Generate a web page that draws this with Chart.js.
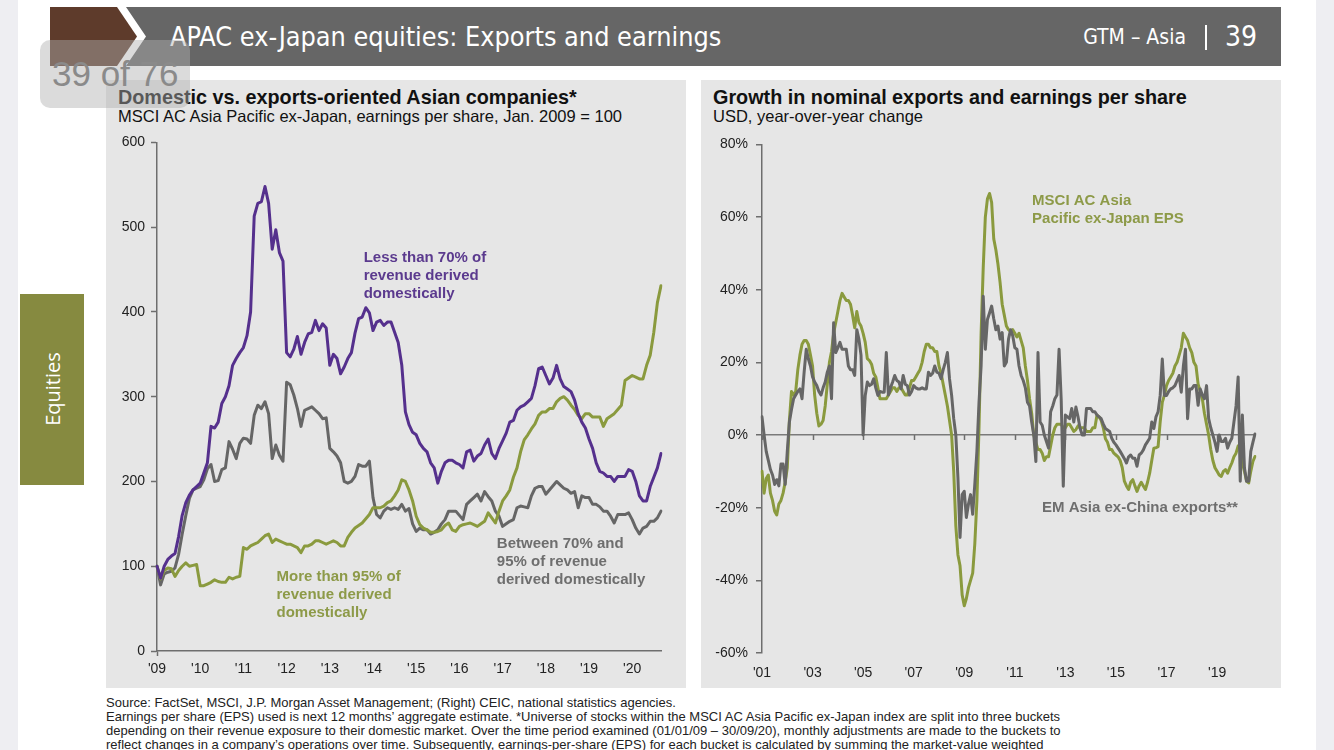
<!DOCTYPE html>
<html><head><meta charset="utf-8">
<script src="https://cdn.jsdelivr.net/npm/chart.js@4.4.1/dist/chart.umd.min.js"></script>
<style>
html,body{margin:0;padding:0;}
body{width:1334px;height:750px;overflow:hidden;background:#eeeef2;position:relative;font-family:"Liberation Sans",Arial,sans-serif;}
.abs{position:absolute;}
.page{left:18px;top:0;width:1298px;height:750px;background:#fff;}
.hdr-title{left:170px;top:19px;height:36px;line-height:36px;font-size:26.8px;color:#fff;white-space:nowrap;font-family:"Liberation Sans Narrow","DejaVu Sans Condensed",sans-serif;}
.hdr-right{right:77px;top:19px;height:36px;line-height:36px;color:#fff;white-space:nowrap;font-family:"Liberation Sans Narrow","DejaVu Sans Condensed",sans-serif;display:flex;align-items:center;}
.hdr-right .gtm{font-size:21px;}
.hdr-right .bar{display:inline-block;width:2px;height:25px;background:#fff;margin:0 18px 0 19px;}
.hdr-right .num{font-size:28px;}
.tab{left:20px;top:294px;width:64px;height:191px;background:#868a40;}
.tab span{position:absolute;left:32px;top:95px;transform:translate(-50%,-50%) rotate(-90deg);color:#fff;font-size:20px;font-family:"Open Sans","Noto Sans",sans-serif;white-space:nowrap;}
.panel{background:#e6e6e6;width:580px;height:608px;top:80px;}
.ctitle{font-weight:bold;font-size:19.8px;line-height:23px;color:#111;white-space:nowrap;}
.csub{font-size:16.5px;line-height:19px;color:#111;white-space:nowrap;}
.foot{left:106px;top:696px;font-size:13px;line-height:14px;color:#222;white-space:nowrap;}
.overlay{left:40px;top:40px;width:150px;height:68px;border-radius:10px;background:rgba(175,175,175,0.45);}
.overlay span{position:absolute;left:12px;top:14px;font-size:35px;line-height:40px;color:#8a8a8a;}
</style>
</head><body>
<div class="abs page"></div>
<svg class="abs" style="left:0;top:0" width="1334" height="70">
  <polygon points="50,7 117,7 137,36.5 117,66 50,66" fill="#5e3b2b"/>
  <polygon points="126,7 1281,7 1281,66 126,66 146,36.5" fill="#666666"/>
</svg>
<div class="abs hdr-title">APAC ex-Japan equities: Exports and earnings</div>
<div class="abs hdr-right"><span class="gtm">GTM – Asia</span><span class="bar"></span><span class="num">39</span></div>
<div class="abs tab"><span>Equities</span></div>

<div class="abs panel" style="left:106px"></div>
<div class="abs panel" style="left:701px"></div>
<div class="abs ctitle" style="left:118px;top:86px">Domestic vs. exports-oriented Asian companies*</div>
<div class="abs csub" style="left:118px;top:107px">MSCI AC Asia Pacific ex-Japan, earnings per share, Jan. 2009 = 100</div>
<div class="abs ctitle" style="left:713px;top:86px">Growth in nominal exports and earnings per share</div>
<div class="abs csub" style="left:713px;top:107px">USD, year-over-year change</div>

<canvas id="left" class="abs" style="left:106px;top:128px" width="580" height="560"></canvas>
<canvas id="right" class="abs" style="left:701px;top:128px" width="580" height="560"></canvas>

<div class="abs foot">Source: FactSet, MSCI, J.P. Morgan Asset Management; (Right) CEIC, national statistics agencies.<br>Earnings per share (EPS) used is next 12 months’ aggregate estimate. *Universe of stocks within the MSCI AC Asia Pacific ex-Japan index are split into three buckets<br>depending on their revenue exposure to their domestic market. Over the time period examined (01/01/09 – 30/09/20), monthly adjustments are made to the buckets to<br>reflect changes in a company’s operations over time. Subsequently, earnings-per-share (EPS) for each bucket is calculated by summing the market-value weighted</div>

<div class="abs overlay"><span>39 of 76</span></div>

<script>
// ---------- LEFT CHART DATA (monthly, Jan 2009 – Sep 2020) ----------
const leftStart = 2009;
const leftCount = 141;
const lessThan70 = [
 100, 86, 100, 108, 112, 115, 135, 160, 175, 184, 190, 194,
 198, 210, 222, 265, 263, 270, 292, 300, 313, 337, 345, 352,
 358, 372, 400, 513, 528, 530, 548, 528, 474, 497, 470, 460,
 352, 347, 356, 371, 350, 364, 374, 376, 390, 378, 386, 381,
 337, 350, 345, 327, 335, 345, 352, 375, 392, 394, 405, 399,
 378, 388, 390, 384, 388, 388, 376, 364, 337, 282, 267, 258,
 255, 245, 239, 235, 222, 216, 198, 212, 222, 225, 225, 222,
 220, 216, 235, 237, 224, 230, 233, 243, 250, 233, 227, 239,
 248, 257, 270, 272, 284, 288, 290, 294, 298, 313, 333, 335,
 325, 315, 322, 337, 321, 312, 309, 306, 296, 280, 270, 263,
 250, 239, 222, 212, 210, 206, 206, 200, 206, 206, 206, 214,
 212, 200, 183, 177, 177, 194, 205, 216, 233
];
const between70and95 = [
 100, 78, 91, 93, 94, 98, 114, 138, 160, 180, 190, 192,
 194, 202, 215, 220, 200, 201, 214, 216, 247, 238, 227, 245,
 251, 250, 245, 278, 290, 286, 294, 280, 227, 243, 231, 224,
 317, 314, 302, 286, 265, 284, 286, 288, 284, 280, 274, 275,
 239, 235, 230, 222, 200, 198, 200, 206, 220, 218, 218, 224,
 181, 161, 157, 165, 169, 167, 169, 167, 173, 165, 168, 150,
 141, 145, 143, 143, 138, 140, 143, 150, 155, 165, 165, 165,
 160, 155, 173, 177, 181, 185, 177, 188, 182, 177, 165, 159,
 147, 150, 153, 155, 169, 171, 170, 169, 183, 192, 194, 194,
 185, 190, 195, 200, 196, 192, 190, 186, 188, 169, 183, 181,
 181, 173, 173, 170, 165, 165, 159, 151, 161, 161, 161, 163,
 155, 145, 138, 145, 147, 153, 153, 157, 165
];
const moreThan95 = [
 100, 85, 95, 98, 97, 88, 95, 100, 104, 100, 101, 102,
 77, 77, 79, 81, 84, 82, 81, 81, 87, 85, 87, 88,
 122, 120, 124, 126, 128, 132, 136, 138, 128, 132, 130, 128,
 126, 126, 124, 122, 116, 124, 124, 126, 130, 130, 128, 126,
 128, 130, 128, 124, 124, 134, 140, 145, 148, 151, 156, 161,
 169, 169, 169, 171, 175, 177, 183, 190, 202, 200, 190, 177,
 159, 149, 145, 143, 140, 140, 141, 143, 148, 151, 143, 141,
 147, 149, 150, 151, 149, 147, 150, 153, 163, 157, 151, 165,
 177, 183, 190, 205, 216, 235, 249, 255, 262, 268, 278, 282,
 282, 286, 286, 294, 298, 300, 296, 290, 285, 278, 274, 280,
 280, 276, 276, 276, 265, 274, 277, 280, 285, 290, 319, 322,
 325, 323, 321, 321, 337, 349, 376, 411, 431
];
const leftYTicks = [0, 100, 200, 300, 400, 500, 600];

// ---------- RIGHT CHART DATA (monthly, Jan 2001 – Jul 2020), % y/y ----------
const rightStart = 2001;
const rightCount = 235;
const msciEps = [
 -10, -16, -12, -11, -16, -18, -21, -22, -19, -18, -16, -13,
 -9, 4, 12, 11, 12, 18, 22, 25, 26, 26, 25, 22,
 19, 11, 6, 2.5, 3, 4, 8, 14, 20, 23, 28, 31,
 34, 37, 39, 38, 37, 37, 36, 33, 29.5, 34, 31, 30,
 28, 25.5, 21, 20.5, 19.5, 17, 16, 13, 10, 10, 10, 10,
 11, 12, 13, 13, 12, 13, 13, 12, 11, 11, 13, 15,
 15, 16, 17, 18, 20, 23, 25, 25, 24, 24, 23, 23,
 19, 17, 14, 11, 8, 4, 0, -10, -25, -33, -36, -44,
 -47, -45, -42, -40, -38, -30, -18, 2, 28, 46, 60, 65,
 66.5, 64, 54, 51, 47, 42, 36, 33, 30, 29, 28.5, 29,
 28, 27, 28, 26, 24, 19, 15, 10, 6, 0, -2, -4,
 -4, -5, -7, -6, -6, -3, 0, 2, 3, 3, 3, 2,
 2, 3, 3, 2, 1, 1.5, 2.5, 2, 2, 2, 1, 1,
 1, 2, 2, 5.5, 5, 4, 2, -1, -2, -4, -4, -5,
 -5.5, -6, -7, -9, -12.7, -14, -15, -13, -12.3, -14, -15.5, -14,
 -13, -14, -15, -13, -10.5, -7, -3.6, -3.5, -3.2, 3.6, 9, 11,
 13.6, 15, 16, 17, 19, 20, 22, 24, 28, 27, 26, 24,
 22.7, 20, 19, 14, 12, 10, 6, 3, 0, -4, -7, -9,
 -10, -11, -11.4, -10, -9.5, -10.5, -9, -7.7, -6, -5, -3, -2.7,
 -7.7, -10, -12.7, -13.2, -10, -7.3, -5.9
];
const emAsiaExports = [
 5, 0, -4.5, -7, -9.5, -11, -13.6, -12.3, -14, -8, -8, -13.6,
 -4.5, 3.6, 7, 10, 11, 12, 12.7, 10, 17.3, 23.6, 21, 19,
 16, 14.6, 13.6, 12, 11, 13, 14.6, 17.3, 19, 10, 30.9, 22.7,
 24, 25.5, 23.6, 23.6, 23.6, 19, 18, 18, 16.4, 29, 26.4, 22,
 0, 10.9, 14.6, 13.6, 14, 15.5, 13, 10.9, 12, 11.8, 11.8, 22.7,
 11, 13, 14.6, 16.4, 15, 14.6, 12.7, 16.4, 14, 13.6, 11, 12,
 13.6, 13, 12.7, 12.7, 13, 12.7, 12.7, 17.3, 16.4, 17, 19, 17.3,
 17, 15.5, 18, 20, 22.7, 15.5, 11, 4.5, 0, -11.8, -28.2, -16.4,
 -15.5, -22.7, -19, -16.4, -21.8, -13.6, -4.5, 9, 19, 38.2, 23.6, 31.8,
 33.6, 35.5, 32, 29, 30, 26.4, 28.2, 19, 20, 26.4, 29, 27.3,
 24, 23.6, 19, 16.4, 15, 13, 9, 8, 3.6, 0, -7.3, 22.7,
 3.6, 2.7, 0, -1.8, -3.6, 6.4, 8, 10, 11, 23.6, 10, -14.1,
 5.5, 5, 4.5, 7.3, 3.6, 7.7, 5, 1.8, 0, 0, 7.3, 7.3,
 7.3, 6.4, 6.4, 5.5, 5, 4.5, 3, 1.8, 1.4, 1, -0.9, -2,
 -2.7, -3.6, -4.5, -5.5, -6.5, -7.7, -6, -5.5, -6.4, -6.4, -8.6, -5.5,
 -5, -4.1, -2.7, -1.8, -0.9, 3.6, 1.8, 5, 6.4, 10.9, 20.9, 10.9,
 10.9, 12, 12.7, 13, 13.6, 15, 16.4, 11.8, 19, 23.6, 4.5, 12.7,
 12.7, 13.6, 13.6, 8.2, 12.7, 11, 10, 13.6, 4.5, 2, 0, -2,
 -4.5, 0, -1.8, -1.8, -0.9, -3.6, -2, -0.9, 3.6, 8, 16, -12.7,
 5.5, -9.1, -12.7, -12.7, -4.5, -2, 0.3
];
const rightYTicks = [-60, -40, -20, 0, 20, 40, 60, 80];

// ---------- helpers ----------
function monthLabels(startYear, count) {
  const out = [];
  for (let i = 0; i < count; i++) {
    const y = startYear + Math.floor(i / 12);
    const m = (i % 12) + 1;
    out.push(y + '-' + (m < 10 ? '0' + m : m));
  }
  return out;
}
const leftCategories = monthLabels(leftStart, leftCount);
const rightCategories = monthLabels(rightStart, rightCount);

const COL_PURPLE = '#55308d';
const COL_GREEN = '#8a9a3e';
const COL_GREY = '#666666';
const AXIS = '#6e6e6e';
const FONT = '"Liberation Sans", Arial, sans-serif';

Chart.defaults.font.family = FONT;
Chart.defaults.font.size = 14;
Chart.defaults.color = '#222';

const notesPlugin = {
  id: 'notes',
  afterDatasetsDraw(chart, args, opts) {
    const { ctx } = chart;
    const xs = chart.scales.x, ys = chart.scales.y;
    (opts.items || []).forEach(it => {
      const px = xs.getPixelForValue(it.x);
      const py = ys.getPixelForValue(it.y);
      ctx.save();
      ctx.font = 'bold 15px ' + FONT;
      ctx.fillStyle = it.color;
      ctx.textBaseline = 'middle';
      ctx.textAlign = 'left';
      it.lines.forEach((l, i) => ctx.fillText(l, px, py + i * 18));
      ctx.restore();
    });
  }
};

const zeroTicksPlugin = {
  id: 'zeroTicks',
  beforeDatasetsDraw(chart, args, opts) {
    if (!opts.every) return;
    const { ctx } = chart;
    const xs = chart.scales.x, ys = chart.scales.y;
    const y0 = ys.getPixelForValue(0);
    ctx.save();
    ctx.strokeStyle = AXIS;
    ctx.lineWidth = 1.5;
    chart.data.labels.forEach((l, i) => {
      if (i % opts.every !== 0) return;
      const px = Math.round(xs.getPixelForValue(i)) + 0.5;
      ctx.beginPath();
      ctx.moveTo(px, y0);
      ctx.lineTo(px, y0 + 5);
      ctx.stroke();
    });
    ctx.restore();
  }
};

function lineDs(label, data, color, order) {
  return { label, data, borderColor: color, backgroundColor: color, borderWidth: 3,
    pointRadius: 0, tension: 0, borderJoinStyle: 'round', borderCapStyle: 'round', order };
}

// ---------- LEFT CHART ----------
new Chart(document.getElementById('left'), {
  type: 'line',
  data: {
    labels: leftCategories,
    datasets: [
      lineDs('Less than 70% of revenue derived domestically', lessThan70, COL_PURPLE, 0),
      lineDs('More than 95% of revenue derived domestically', moreThan95, COL_GREEN, 1),
      lineDs('Between 70% and 95% of revenue derived domestically', between70and95, COL_GREY, 2)
    ]
  },
  options: {
    responsive: false, animation: false, events: [],
    layout: { padding: { left: 0, top: 11, right: 25, bottom: 0 } },
    plugins: {
      legend: { display: false }, tooltip: { enabled: false },
      notes: { items: [
        { x: 57.4, y: 464, color: '#5b3a8e', lines: ['Less than 70% of', 'revenue derived', 'domestically'] },
        { x: 33.2, y: 88, color: '#8d9a48', lines: ['More than 95% of', 'revenue derived', 'domestically'] },
        { x: 94.4, y: 126, color: '#6e6e6e', lines: ['Between 70% and', '95% of revenue', 'derived domestically'] }
      ] },
      zeroTicks: { every: 0 }
    },
    scales: {
      x: {
        type: 'category', offset: false,
        afterFit: s => { s.height = 37; },
        border: { display: true, color: AXIS, width: 1.5 },
        grid: { display: true, drawOnChartArea: false, drawTicks: true, tickLength: 5,
          tickWidth: 1.5, tickColor: c => (c.index % 12 === 0 ? AXIS : 'rgba(0,0,0,0)') },
        ticks: { autoSkip: false, maxRotation: 0, minRotation: 0, padding: 5,
          callback: (v, i) => (i % 12 === 0 ? "'" + leftCategories[i].slice(2, 4) : null) }
      },
      y: {
        min: 0, max: 600,
        afterFit: s => { s.width = 51; },
        afterBuildTicks: s => { s.ticks = leftYTicks.map(v => ({ value: v })); },
        border: { display: true, color: AXIS, width: 1.5 },
        grid: { display: true, drawOnChartArea: false, drawTicks: true, tickLength: 6, tickWidth: 1.5, tickColor: AXIS },
        ticks: { padding: 6 }
      }
    }
  },
  plugins: [notesPlugin, zeroTicksPlugin]
});

// ---------- RIGHT CHART ----------
new Chart(document.getElementById('right'), {
  type: 'line',
  data: {
    labels: rightCategories,
    datasets: [
      lineDs('EM Asia ex-China exports**', emAsiaExports, COL_GREY, 0),
      lineDs('MSCI AC Asia Pacific ex-Japan EPS', msciEps, COL_GREEN, 1)
    ]
  },
  options: {
    responsive: false, animation: false, events: [],
    layout: { padding: { left: 0, top: 13, right: 26, bottom: 0 } },
    plugins: {
      legend: { display: false }, tooltip: { enabled: false },
      notes: { items: [
        { x: 128.2, y: 64.5, color: '#8d9a48', lines: ['MSCI AC Asia', 'Pacific ex-Japan EPS'] },
        { x: 132.9, y: -20.1, color: '#6e6e6e', lines: ['EM Asia ex-China exports**'] }
      ] },
      zeroTicks: { every: 24 }
    },
    scales: {
      x: {
        type: 'category', offset: false,
        afterFit: s => { s.height = 35; },
        border: { display: false },
        grid: { display: false },
        ticks: { autoSkip: false, maxRotation: 0, minRotation: 0, padding: 4,
          callback: (v, i) => (i % 24 === 0 ? "'" + rightCategories[i].slice(2, 4) : null) }
      },
      y: {
        min: -60, max: 80,
        afterFit: s => { s.width = 61; },
        afterBuildTicks: s => { s.ticks = rightYTicks.map(v => ({ value: v })); },
        border: { display: true, color: AXIS, width: 1.5 },
        grid: { display: true, drawOnChartArea: true, drawTicks: true, tickLength: 6,
          lineWidth: 1.5, tickWidth: 1.5, tickColor: AXIS,
          color: c => (c.tick && c.tick.value === 0 ? '#7a7a7a' : 'rgba(0,0,0,0)') },
        ticks: { padding: 8, callback: v => v + '%' }
      }
    }
  },
  plugins: [notesPlugin, zeroTicksPlugin]
});
</script>
</body></html>
